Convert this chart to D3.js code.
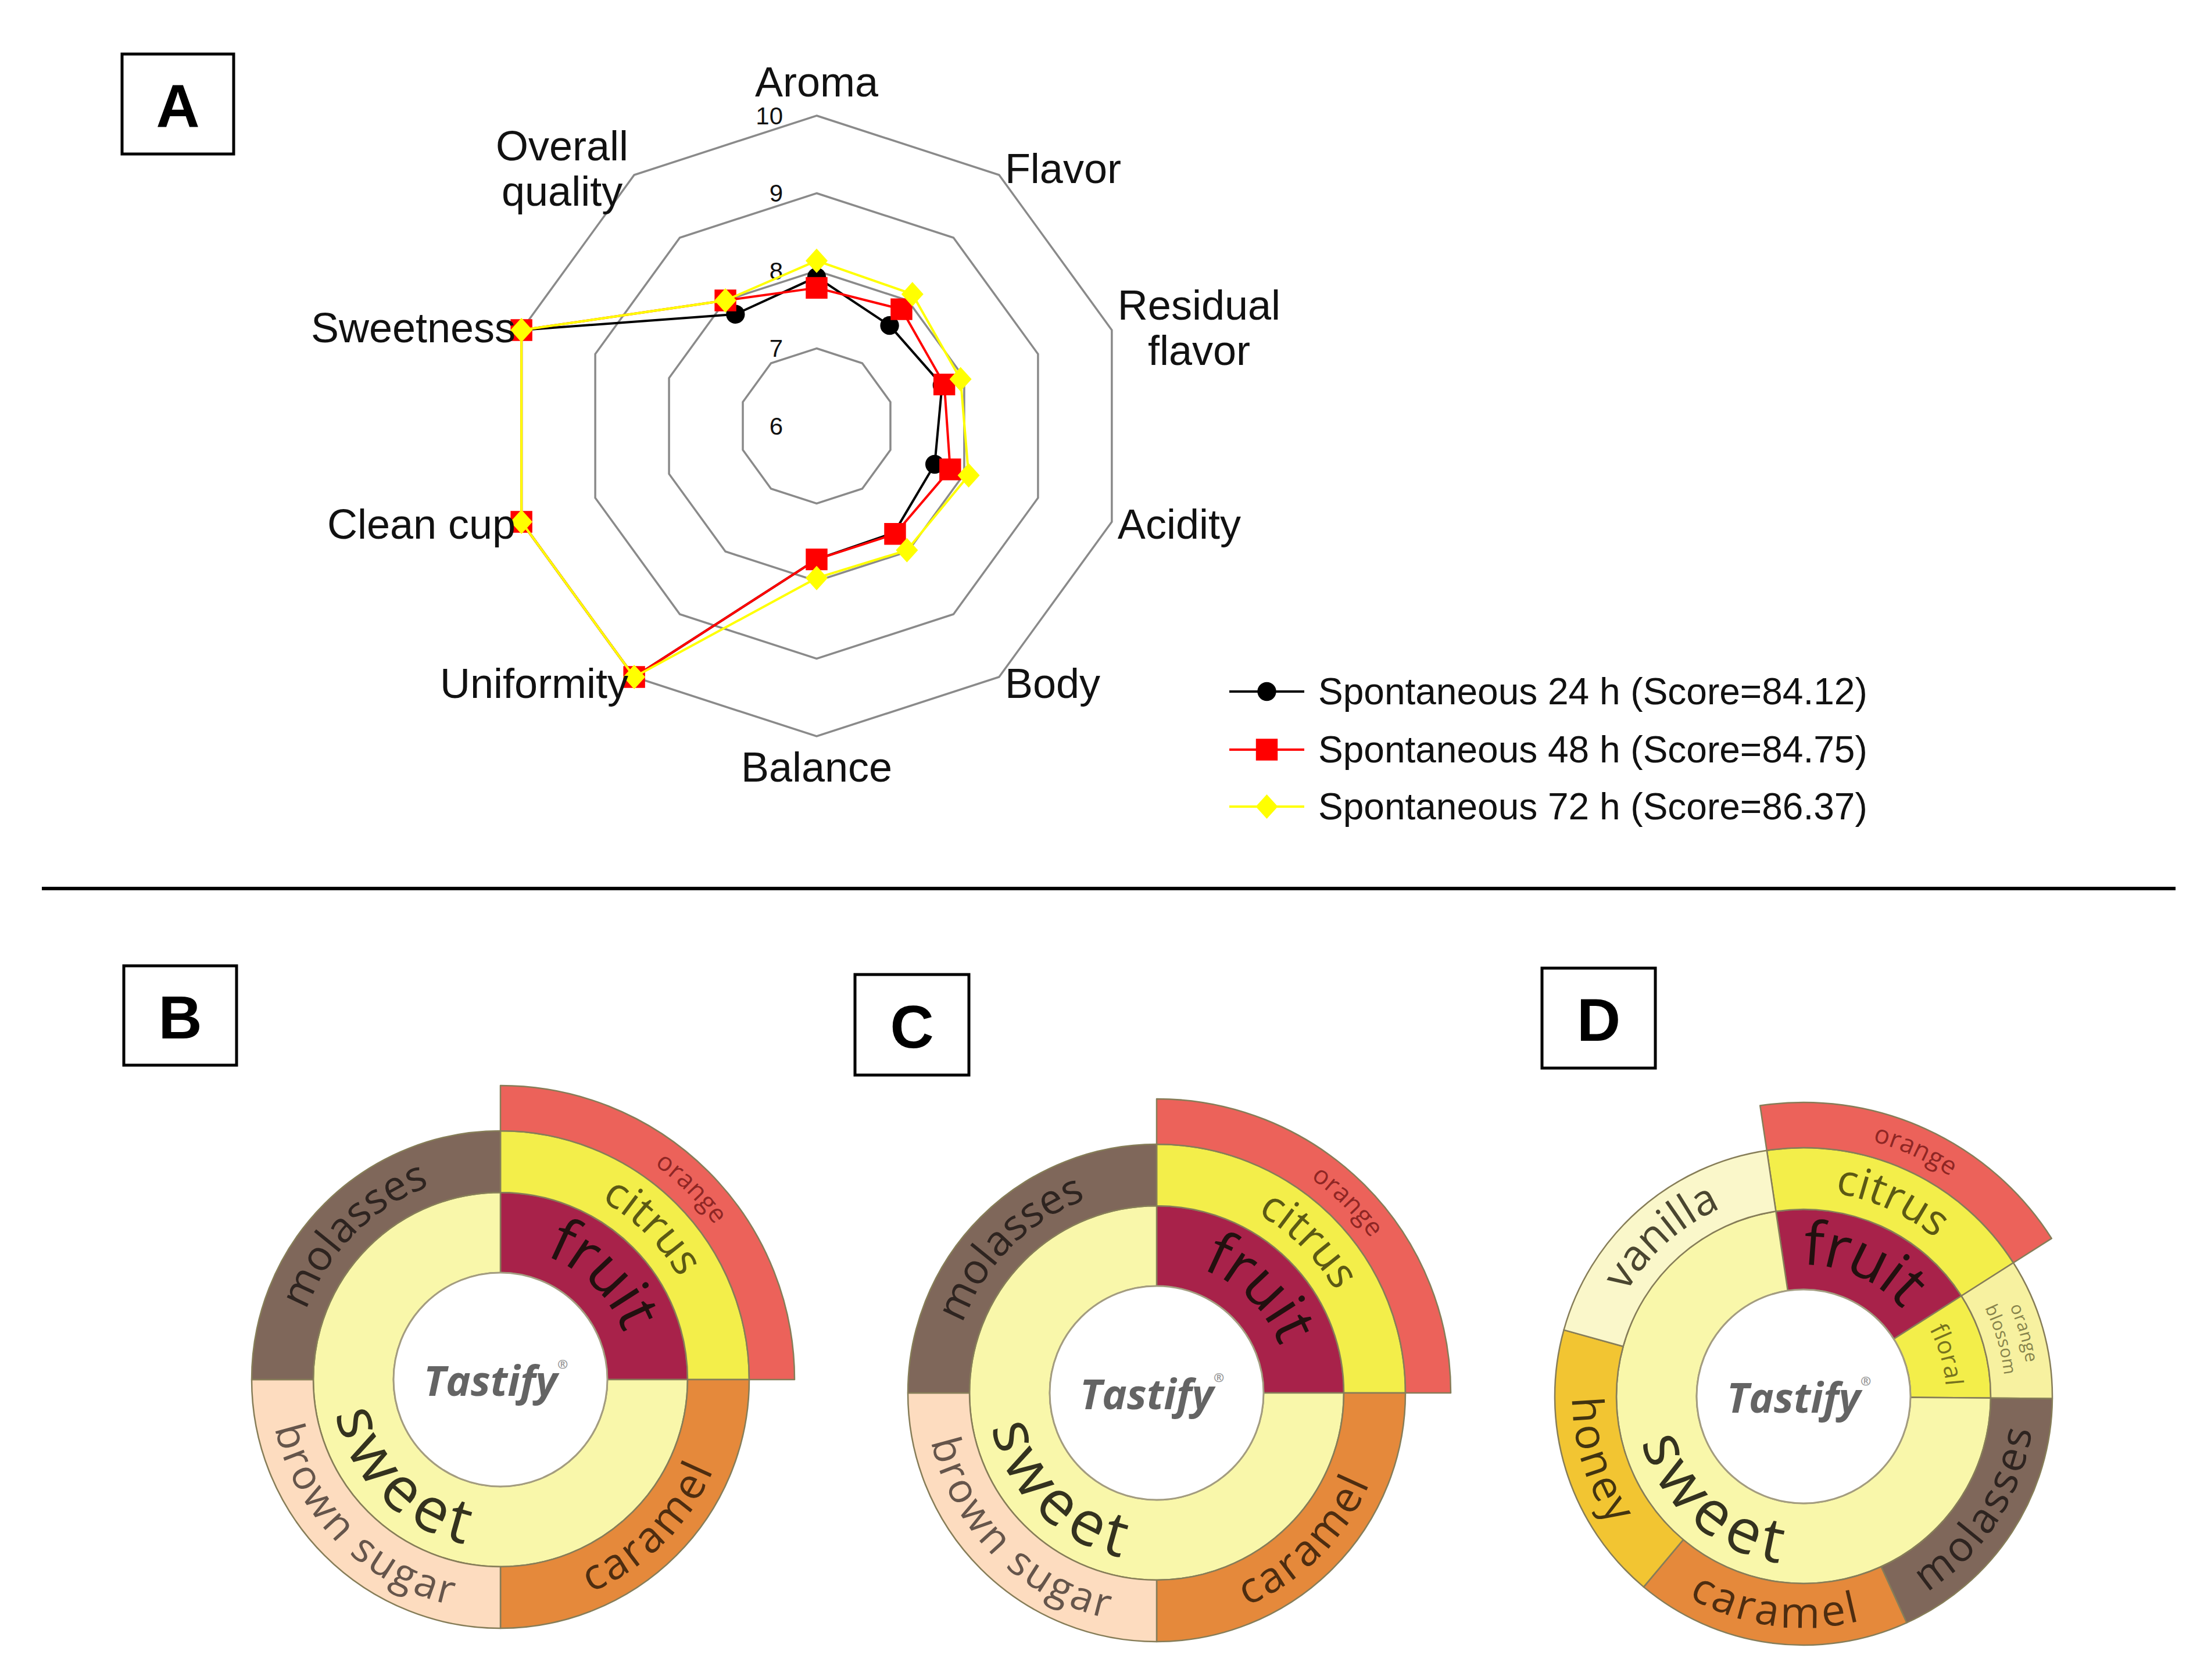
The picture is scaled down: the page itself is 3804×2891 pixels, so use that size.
<!DOCTYPE html>
<html><head><meta charset="utf-8">
<script src="https://cdn.jsdelivr.net/npm/d3@7"></script>
<style>html,body{margin:0;padding:0;background:#fff}svg{display:block}</style>
</head><body>
<svg id="fig" width="3804" height="2891" xmlns="http://www.w3.org/2000/svg"></svg>
<script>
// ================= DATA =================
const attributes = ["Aroma","Flavor","Residual flavor","Acidity","Body","Balance","Uniformity","Clean cup","Sweetness","Overall quality"];
const attributeLabelLines = [["Aroma"],["Flavor"],["Residual","flavor"],["Acidity"],["Body"],["Balance"],["Uniformity"],["Clean cup"],["Sweetness"],["Overall","quality"]];
const spont24h = [7.92, 7.60, 7.70, 7.60, 7.70, 7.72, 10, 10, 10, 7.78];
const spont48h = [7.78, 7.86, 7.73, 7.81, 7.72, 7.72, 10, 10, 10, 8.00];
const spont72h = [8.13, 8.10, 7.95, 8.06, 7.98, 7.96, 10, 10, 10, 8.00];
const seriesLabels = ["Spontaneous 24 h (Score=84.12)", "Spontaneous 48 h (Score=84.75)", "Spontaneous 72 h (Score=86.37)"];
const radialTicks = [6, 7, 8, 9, 10];
const panelLetters = ["A", "B", "C", "D"];

// Tastify flavour wheels (id / parent / share of the circle)
const wheelBIds     = ["Tastify","fruit","sweet","citrus","orange","caramel","brown sugar","molasses"];
const wheelBParents = ["","Tastify","Tastify","fruit","citrus","sweet","sweet","sweet"];
const wheelBShares  = [0,0,0,0,1,1,1,1];
const wheelCIds     = ["Tastify","fruit","sweet","citrus","orange","caramel","brown sugar","molasses"];
const wheelCParents = ["","Tastify","Tastify","fruit","citrus","sweet","sweet","sweet"];
const wheelCShares  = [0,0,0,0,1,1,1,1];
const wheelDIds     = ["Tastify","fruit","floral","sweet","citrus","orange","orange blossom","molasses","caramel","honey","vanilla"];
const wheelDParents = ["","Tastify","Tastify","Tastify","fruit","citrus","floral","sweet","sweet","sweet","sweet"];
const wheelDShares  = [0,0,0,0,0,66,33,65,64.5,65.5,66];
const wheelDStartDeg = -8.5;

// ================= STYLE =================
const svg = d3.select("#fig");
const FONT = "'Liberation Sans', Arial, sans-serif";
const WFONT = "'Open Sans', 'Noto Sans', sans-serif";

// ---------- Panel A : radar ----------
const cx = 1405, cy = 733;
const r = d3.scaleLinear().domain([6, 10]).range([0, 534]);
const ang = d3.scalePoint().domain(attributes)
  .range([0, 2 * Math.PI * (attributes.length - 1) / attributes.length]);
const pt = (a, v) => [cx + r(v) * Math.sin(ang(a)), cy - r(v) * Math.cos(ang(a))];
const closed = d3.line().curve(d3.curveLinearClosed);

const gA = svg.append("g");
gA.selectAll("path.ring").data(radialTicks.filter(t => t > radialTicks[0])).join("path")
  .attr("class", "ring")
  .attr("d", t => closed(attributes.map(a => pt(a, t))))
  .attr("fill", "none").attr("stroke", "#8a8a8a").attr("stroke-width", 3.5);

gA.selectAll("text.tick").data(radialTicks).join("text")
  .attr("class", "tick")
  .attr("x", cx - 58).attr("y", t => cy - r(t))
  .attr("text-anchor", "end").attr("dominant-baseline", "central")
  .attr("font-family", FONT).attr("font-size", 42).attr("fill", "#111")
  .text(d => d);

const series = [spont24h, spont48h, spont72h];
const colors = ["#000000", "#ff0000", "#ffff00"];
const markerPath = [
  d3.symbol(d3.symbolCircle, 820)(),
  d3.symbol(d3.symbolSquare, 1400)(),
  "M0,-21L19,0L0,21L-19,0Z"
];

series.forEach((vals, si) => {
  const g = gA.append("g");
  const pts = attributes.map((a, i) => pt(a, vals[i]));
  g.append("path").attr("d", closed(pts)).attr("fill", "none")
    .attr("stroke", colors[si]).attr("stroke-width", 4).attr("stroke-linejoin", "round");
  g.selectAll("path.m").data(pts).join("path").attr("class", "m")
    .attr("d", markerPath[si]).attr("transform", d => `translate(${d[0]},${d[1]})`)
    .attr("fill", colors[si]);
});

// attribute labels
attributes.forEach((a, i) => {
  const th = ang(a), s = Math.sin(th), c = Math.cos(th);
  const [vx, vy] = pt(a, 10);
  const lines = attributeLabelLines[i];
  const lh = 78;
  let yc = Math.abs(s) < 0.01 ? (c > 0 ? vy - 58 : vy + 53) : vy - 14 * c;
  const t = gA.append("g");
  const nodes = lines.map((ln, k) => t.append("text")
    .attr("font-family", FONT).attr("font-size", 72).attr("fill", "#111")
    .attr("text-anchor", "middle").attr("dominant-baseline", "central")
    .attr("y", yc + (k - (lines.length - 1) / 2) * lh).text(ln));
  const maxW = d3.max(nodes, n => n.node().getComputedTextLength());
  let x;
  if (Math.abs(s) < 0.01) x = vx;
  else if (s > 0) x = vx + 10 + maxW / 2;
  else x = vx - 10 - maxW / 2;
  nodes.forEach(n => n.attr("x", x));
});

// legend
const legX0 = 2115, legX1 = 2244, legY = [1190, 1290, 1388];
seriesLabels.forEach((lab, si) => {
  const y = legY[si];
  gA.append("line").attr("x1", legX0).attr("x2", legX1).attr("y1", y).attr("y2", y)
    .attr("stroke", colors[si]).attr("stroke-width", 4);
  gA.append("path").attr("d", markerPath[si]).attr("transform", `translate(${(legX0 + legX1) / 2},${y})`)
    .attr("fill", colors[si]);
  gA.append("text").attr("x", 2268).attr("y", y).attr("dominant-baseline", "central")
    .attr("font-family", FONT).attr("font-size", 64).attr("fill", "#111").text(lab);
});

// separator
svg.append("line").attr("x1", 72).attr("x2", 3743).attr("y1", 1529).attr("y2", 1529)
  .attr("stroke", "#000").attr("stroke-width", 6);

// panel letter boxes
const boxes = [[210, 93, 192, 172], [213, 1662, 194, 171], [1471, 1677, 196, 173], [2653, 1666, 195, 172]];
panelLetters.forEach((L, i) => {
  const [bx, by, bw, bh] = boxes[i];
  svg.append("rect").attr("x", bx).attr("y", by).attr("width", bw).attr("height", bh)
    .attr("fill", "#fff").attr("stroke", "#000").attr("stroke-width", 5);
  svg.append("text").attr("x", bx + bw / 2).attr("y", by + bh / 2 + 3)
    .attr("text-anchor", "middle").attr("dominant-baseline", "central")
    .attr("font-family", FONT).attr("font-weight", "bold").attr("font-size", 104).text(L);
});

// ---------- Panels B, C, D : flavour wheels ----------
const wheelColors = {
  "fruit": "#a8224a", "sweet": "#f9f7aa", "citrus": "#f3ee4a", "orange": "#ec625a",
  "caramel": "#e5893b", "brown sugar": "#fddcbf", "molasses": "#7f675a",
  "floral": "#f3ee4a", "orange blossom": "#f7f1a0", "honey": "#f2c532", "vanilla": "#faf7ca"
};
const wheelText = {
  "fruit": {size: 104, fill: "#22100f"}, "sweet": {size: 106, fill: "#34321f"},
  "citrus": {size: 74, fill: "#5c5914"}, "orange": {size: 44, fill: "#8f2624"},
  "caramel": {size: 74, fill: "#4e2d10"}, "brown sugar": {size: 70, fill: "#65554b"},
  "molasses": {size: 72, fill: "#2e2420"}, "floral": {size: 42, fill: "#77731e"},
  "orange blossom": {size: 30, fill: "#86834c"}, "honey": {size: 74, fill: "#433410"},
  "vanilla": {size: 74, fill: "#4a4630"}
};
const ringR = [[0, 184], [184, 322], [322, 428], [428, 506]];
const textR = [0, 258, 376, 468];
const OUT = "#867d58";
let pathId = 0;

function drawWheel(ids, parents, shares, wx, wy, startDeg) {
  const off = startDeg * Math.PI / 180;
  const root = d3.stratify().id(i => ids[i]).parentId(i => parents[i] || null)(ids.map((d, i) => i));
  root.sum(i => shares[i]);
  d3.partition().size([2 * Math.PI, ringR.length])(root);
  const g = svg.append("g").attr("transform", `translate(${wx},${wy})`);
  const arc = d3.arc()
    .innerRadius(d => ringR[d.depth][0]).outerRadius(d => ringR[d.depth][1])
    .startAngle(d => d.x0 + off).endAngle(d => d.x1 + off);
  const nodes = root.descendants().filter(d => d.depth > 0);
  g.selectAll("path.seg").data(nodes).join("path").attr("class", "seg")
    .attr("d", arc).attr("fill", d => wheelColors[d.id])
    .attr("stroke", OUT).attr("stroke-width", 2.5).attr("stroke-linejoin", "round");
  g.append("circle").attr("r", ringR[0][1]).attr("fill", "#fff").attr("stroke", "#a39c80").attr("stroke-width", 3);

  // curved labels
  nodes.forEach(d => {
    const st = wheelText[d.id];
    const mid = (d.x0 + d.x1) / 2 + off;
    const bottom = mid > Math.PI / 2 && mid < 3 * Math.PI / 2;
    const words = d.id === "orange blossom" ? ["orange", "blossom"] : [d.id];
    words.forEach((w, k) => {
      const rr = textR[d.depth] + (words.length > 1 ? (k === 0 ? 20 : -20) : 0);
      const a0 = mid - Math.PI / 2, a1 = mid + Math.PI / 2;
      const P = a => [rr * Math.sin(a), -rr * Math.cos(a)];
      let dstr;
      if (!bottom) { const p0 = P(a0), p1 = P(a1); dstr = `M${p0}A${rr},${rr} 0 0 1 ${p1}`; }
      else { const p0 = P(a1), p1 = P(a0); dstr = `M${p0}A${rr},${rr} 0 0 0 ${p1}`; }
      const id = "tp" + (pathId++);
      g.append("path").attr("id", id).attr("d", dstr).attr("fill", "none");
      g.append("text").attr("font-family", WFONT).attr("font-size", st.size).attr("fill", st.fill)
        .attr("letter-spacing", st.size * 0.03)
        .attr("dy", "0.3em")
        .append("textPath").attr("href", "#" + id).attr("startOffset", "50%")
        .attr("text-anchor", "middle").text(w);
    });
  });

  const t = g.append("text").attr("x", -8).attr("y", 0).attr("text-anchor", "middle")
    .attr("dominant-baseline", "central").attr("font-family", WFONT)
    .attr("font-weight", "bold").attr("font-style", "italic").attr("font-size", 72)
    .attr("fill", "#646464").text(root.id);
  t.append("tspan").attr("font-size", 22).attr("dy", -28).attr("font-style", "normal").attr("fill", "#999").text("®");
}

drawWheel(wheelBIds, wheelBParents, wheelBShares, 861, 2374, 0);
drawWheel(wheelCIds, wheelCParents, wheelCShares, 1990, 2397, 0);
drawWheel(wheelDIds, wheelDParents, wheelDShares, 3103, 2403, wheelDStartDeg);
</script>
</body></html>
